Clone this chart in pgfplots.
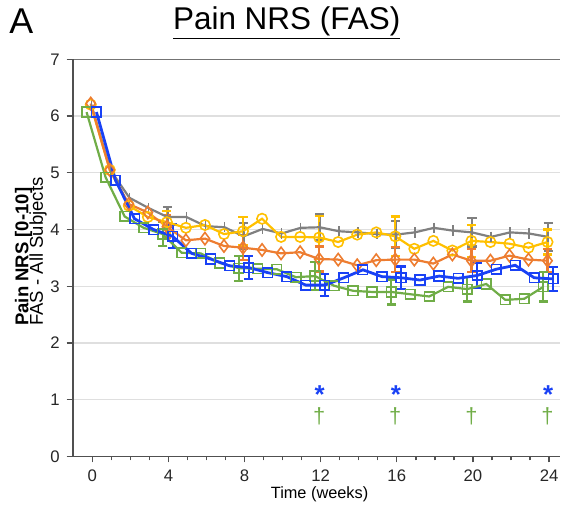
\documentclass[border=0pt]{standalone}
\usepackage{fontspec}
\setmainfont{Liberation Sans}
\usepackage{pgfplots}
\usepackage{pgfplotstable}
\pgfplotsset{compat=1.18}

\definecolor{cblue}{RGB}{25,65,245}
\definecolor{cgreen}{RGB}{112,173,71}
\definecolor{corange}{RGB}{237,125,49}
\definecolor{cyellow}{RGB}{255,192,0}
\definecolor{cgray}{RGB}{128,128,128}
\definecolor{axgray}{RGB}{80,80,80}

% weekly means, one table per group
\pgfplotstableread{
w v
0 6.20
1 5.05
2 4.56
3 4.38
4 4.22
5 4.22
6 4.06
7 4.04
8 3.88
9 4.01
10 3.93
11 4.03
12 4.04
13 3.97
14 3.95
15 3.92
16 3.91
17 3.95
18 4.03
19 3.98
20 3.95
21 3.87
22 3.95
23 3.93
24 3.87
}\grayd
\pgfplotstableread{
w v
0 6.20
1 5.05
2 4.42
3 4.22
4 4.13
5 4.03
6 4.08
7 3.92
8 3.97
9 4.19
10 3.87
11 3.87
12 3.86
13 3.78
14 3.91
15 3.95
16 3.88
17 3.66
18 3.80
19 3.63
20 3.80
21 3.78
22 3.75
23 3.68
24 3.78
}\yellowd
\pgfplotstableread{
w v
0 6.22
1 5.05
2 4.45
3 4.30
4 4.05
5 3.81
6 3.84
7 3.71
8 3.68
9 3.64
10 3.58
11 3.60
12 3.48
13 3.47
14 3.37
15 3.46
16 3.47
17 3.47
18 3.40
19 3.56
20 3.45
21 3.45
22 3.54
23 3.47
24 3.45
}\oranged
\pgfplotstableread{
w v
0 6.07
1 4.92
2 4.23
3 4.03
4 3.92
5 3.59
6 3.58
7 3.41
8 3.32
9 3.31
10 3.30
11 3.16
12 3.18
13 3.01
14 2.92
15 2.90
16 2.90
17 2.86
18 2.82
19 2.99
20 2.95
21 3.04
22 2.76
23 2.78
24 2.99
}\greend
\pgfplotstableread{
w v
0 6.07
1 4.87
2 4.19
3 4.00
4 3.88
5 3.58
6 3.48
7 3.36
8 3.33
9 3.24
10 3.17
11 3.02
12 3.02
13 3.15
14 3.29
15 3.17
16 3.15
17 3.11
18 3.18
19 3.14
20 3.19
21 3.30
22 3.37
23 3.15
24 3.13
}\blued

% error bars every 4 weeks
\pgfplotstableread{
w v e
4 4.22 0.18
8 3.88 0.23
12 4.04 0.23
16 3.91 0.24
20 3.95 0.25
24 3.87 0.25
}\graye
\pgfplotstableread{
w v e
4 4.13 0.20
8 3.97 0.25
12 3.86 0.38
16 3.88 0.35
20 3.80 0.28
24 3.78 0.22
}\yellowe
\pgfplotstableread{
w v e
4 4.05 0.20
8 3.68 0.22
12 3.48 0.22
16 3.47 0.22
20 3.45 0.20
24 3.45 0.20
}\orangee
\pgfplotstableread{
w v e
4 3.92 0.21
8 3.32 0.22
12 3.18 0.25
16 2.90 0.22
20 2.95 0.22
24 2.99 0.26
}\greene
\pgfplotstableread{
w v e
4 3.88 0.21
8 3.33 0.20
12 3.02 0.19
16 3.15 0.20
20 3.19 0.22
24 3.13 0.21
}\bluee

\pgfplotsset{
  errbar/.style={draw=none, mark=none, forget plot, on layer=pre main,
    error bars/.cd, y dir=both, y explicit,
    error bar style={draw=#1, line width=1.1pt, solid},
    error mark options={draw=#1, rotate=90, mark size=2.3pt, line width=1.1pt}},
  ser/.style={color=#1, line width=1.1pt,
    mark options={solid, fill=white, line width=0.8pt}},
}
\tikzset{
  sigstar/.style={anchor=base, inner sep=0pt, text=cblue, font=\fontsize{13}{14}\selectfont\bfseries},
  sigdag/.style={anchor=base, inner sep=0pt, text=cgreen, font=\fontsize{11}{12}\selectfont},
}

\begin{document}
\begin{tikzpicture}
\begin{axis}[
  name=ax, at={(0,0)}, anchor=south west,
  set layers,
  scale only axis, width=245pt, height=199.5pt,
  xmin=-1.03, xmax=24.6, ymin=0, ymax=7,
  axis lines=left,
  axis line style={-, axgray, line width=0.9pt},
  xtick={0,4,...,24}, minor xtick={0,...,24},
  ytick={0,...,6},
  extra y ticks={7},
  extra y tick style={grid style={axgray!80, line width=0.6pt}},
  ymajorgrids, grid style={gray!25, line width=0.6pt},
  tick style={axgray, line width=0.7pt},
  tick align=outside,
  major tick length=3pt, minor tick length=2pt,
  tick label style={font=\fontsize{8.4}{10}\selectfont, text=black!85},
  /pgf/number format/assume math mode=true,
  clip=false,
]
\addplot[errbar=cgray] table[x expr=\thisrow{w}-0.05, y=v, y error=e]{\graye};
\addplot[errbar=cyellow] table[x expr=\thisrow{w}-0.08, y=v, y error=e]{\yellowe};
\addplot[errbar=corange] table[x expr=\thisrow{w}-0.08, y=v, y error=e]{\orangee};
\addplot[errbar=cgreen] table[x expr=\thisrow{w}-0.3, y=v, y error=e]{\greene};
\addplot[errbar=cblue] table[x expr=\thisrow{w}+0.22, y=v, y error=e]{\bluee};

\addplot[ser=cgray, mark=|, mark size=2.6pt] table[x expr=\thisrow{w}-0.05, y=v]{\grayd};
\addplot[ser=cyellow, mark=o, mark size=2.6pt] table[x expr=\thisrow{w}-0.08, y=v]{\yellowd};
\addplot[ser=corange, mark=diamond, mark size=3.1pt] table[x expr=\thisrow{w}-0.08, y=v]{\oranged};
\addplot[ser=cgreen, mark=square, mark size=2.4pt] table[x expr=\thisrow{w}-0.3, y=v]{\greend};
\addplot[ser=cblue, line width=1.4pt, mark=square, mark size=2.4pt] table[x expr=\thisrow{w}+0.22, y=v]{\blued};

\node[sigstar] at (axis cs:11.95,0.93) {*};
\node[sigstar] at (axis cs:15.95,0.93) {*};
\node[sigstar] at (axis cs:23.95,0.93) {*};
\node[sigdag] at (axis cs:11.92,0.58) {†};
\node[sigdag] at (axis cs:15.92,0.58) {†};
\node[sigdag] at (axis cs:19.92,0.58) {†};
\node[sigdag] at (axis cs:23.92,0.58) {†};
\end{axis}

\node[anchor=base, font=\fontsize{15.8}{18}\selectfont] at (107.5pt,214.5pt) {\underline{Pain NRS (FAS)}};
\node[anchor=base west, inner sep=0pt, font=\fontsize{18}{20}\selectfont] at (-32pt,212.5pt) {A};
\node[rotate=90, anchor=base west, inner sep=0pt, font=\fontsize{9.3}{10}\selectfont\bfseries] at (-22.3pt,65.5pt) {Pain NRS [0-10]};
\node[rotate=90, anchor=base west, inner sep=0pt, font=\fontsize{9.3}{10}\selectfont] at (-15pt,65.5pt) {FAS - All Subjects};
\node[anchor=base, inner sep=0pt, font=\fontsize{8.2}{10}\selectfont] at (124pt,-21pt) {Time (weeks)};

\path[use as bounding box] (-36.5pt,-27pt) rectangle (246pt,229pt);
\end{tikzpicture}
\end{document}
